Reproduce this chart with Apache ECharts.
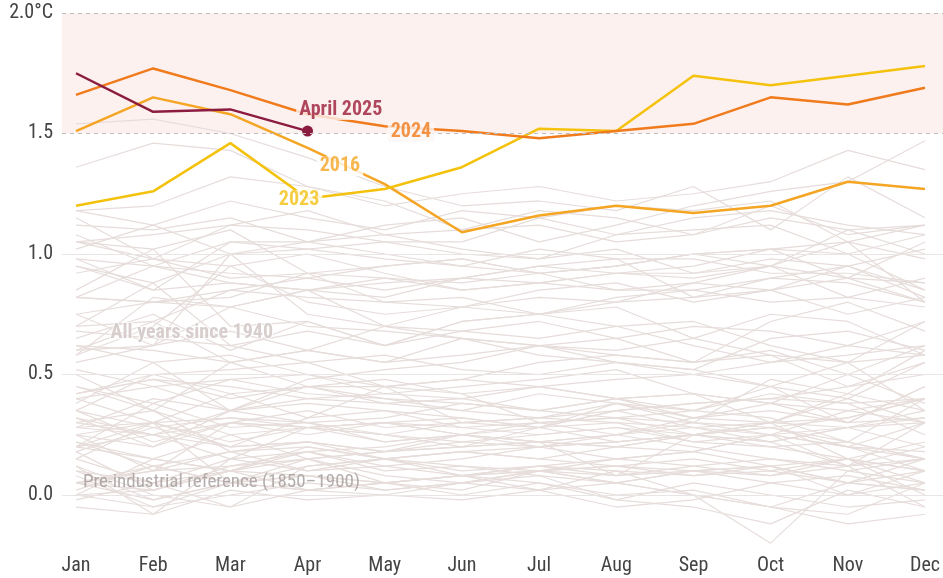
<!DOCTYPE html>
<html>
<head>
<meta charset="utf-8">
<script src="https://cdn.jsdelivr.net/npm/echarts@6/dist/echarts.min.js"></script>
<style>
  html, body { margin: 0; padding: 0; background: #fff; }
  #chart { width: 943px; height: 578px; }
</style>
</head>
<body>
<div id="chart"></div>
<script>
// months on the x axis
var months = ['Jan', 'Feb', 'Mar', 'Apr', 'May', 'Jun', 'Jul', 'Aug', 'Sep', 'Oct', 'Nov', 'Dec'];

// highlighted years, °C above 1850-1900
var y2016 = [1.51, 1.65, 1.58, 1.44, 1.29, 1.09, 1.16, 1.20, 1.17, 1.20, 1.30, 1.27];
var y2023 = [1.20, 1.26, 1.46, 1.23, 1.27, 1.36, 1.52, 1.51, 1.74, 1.70, 1.74, 1.78];
var y2024 = [1.66, 1.77, 1.68, 1.58, 1.53, 1.51, 1.48, 1.51, 1.54, 1.65, 1.62, 1.69];
var y2025 = [1.75, 1.59, 1.60, 1.51];

// all other years since 1940 (2016 is drawn in colour)
var greyValues = [
  [0.28, 0.40, 0.35, 0.30, 0.32, 0.38, 0.35, 0.40, 0.42, 0.38, 0.30, 0.45],
  [0.45, 0.38, 0.48, 0.42, 0.40, 0.35, 0.42, 0.38, 0.30, 0.48, 0.42, 0.35],
  [0.35, 0.22, 0.30, 0.25, 0.30, 0.32, 0.28, 0.22, 0.25, 0.30, 0.28, 0.32],
  [0.20, 0.38, 0.28, 0.30, 0.22, 0.25, 0.30, 0.32, 0.35, 0.42, 0.38, 0.40],
  [0.42, 0.48, 0.40, 0.45, 0.38, 0.40, 0.45, 0.48, 0.50, 0.45, 0.40, 0.30],
  [0.32, 0.25, 0.30, 0.35, 0.28, 0.30, 0.32, 0.35, 0.28, 0.30, 0.15, 0.10],
  [0.20, 0.15, 0.10, 0.18, 0.12, 0.08, 0.10, 0.12, 0.10, 0.08, 0.12, -0.05],
  [0.05, 0.10, 0.18, 0.20, 0.15, 0.12, 0.10, 0.15, 0.18, 0.25, 0.20, 0.10],
  [0.18, 0.02, 0.10, 0.20, 0.15, 0.10, 0.12, 0.08, 0.10, 0.12, 0.05, 0.10],
  [0.22, 0.15, 0.10, 0.15, 0.08, 0.05, 0.10, 0.12, 0.08, 0.10, 0.05, 0.02],
  [-0.02, 0.05, 0.10, 0.02, 0.05, 0.08, 0.05, 0.00, 0.02, -0.05, -0.08, 0.05],
  [0.00, -0.05, 0.05, 0.12, 0.15, 0.18, 0.20, 0.22, 0.25, 0.28, 0.20, 0.30],
  [0.28, 0.30, 0.20, 0.22, 0.18, 0.20, 0.22, 0.20, 0.18, 0.12, 0.05, 0.15],
  [0.25, 0.30, 0.32, 0.28, 0.30, 0.28, 0.25, 0.28, 0.22, 0.20, 0.15, 0.22],
  [0.02, 0.12, 0.05, 0.08, 0.02, 0.05, 0.08, 0.05, 0.10, 0.12, 0.15, 0.00],
  [0.12, 0.00, -0.05, 0.02, 0.00, 0.05, 0.02, 0.05, 0.00, -0.05, -0.12, -0.08],
  [-0.05, -0.08, 0.02, -0.02, 0.00, -0.02, 0.02, -0.05, -0.02, 0.05, 0.00, 0.05],
  [0.05, 0.10, 0.12, 0.18, 0.20, 0.25, 0.22, 0.25, 0.28, 0.22, 0.28, 0.35],
  [0.45, 0.35, 0.25, 0.28, 0.30, 0.25, 0.28, 0.30, 0.22, 0.25, 0.28, 0.20],
  [0.25, 0.20, 0.30, 0.28, 0.22, 0.25, 0.20, 0.25, 0.20, 0.15, 0.12, 0.20],
  [0.15, 0.05, -0.05, 0.12, 0.15, 0.18, 0.15, 0.20, 0.25, 0.22, 0.12, 0.30],
  [0.20, 0.30, 0.22, 0.28, 0.25, 0.22, 0.20, 0.22, 0.25, 0.20, 0.22, 0.15],
  [0.28, 0.25, 0.20, 0.22, 0.18, 0.25, 0.22, 0.20, 0.25, 0.28, 0.20, 0.18],
  [0.15, 0.30, 0.05, 0.15, 0.18, 0.20, 0.28, 0.35, 0.38, 0.40, 0.38, 0.25],
  [0.22, 0.12, 0.05, 0.02, 0.05, 0.00, 0.05, -0.02, -0.05, -0.12, 0.02, -0.05],
  [0.05, -0.02, 0.05, 0.02, 0.05, 0.08, 0.02, 0.10, 0.08, 0.12, 0.00, 0.10],
  [0.05, 0.12, 0.18, 0.10, 0.12, 0.15, 0.20, 0.15, 0.12, 0.08, 0.15, 0.10],
  [0.12, -0.08, 0.15, 0.10, 0.15, 0.08, 0.12, 0.15, 0.18, 0.25, 0.12, 0.15],
  [0.00, 0.15, 0.25, 0.15, 0.05, 0.08, 0.10, 0.08, 0.12, 0.15, 0.10, 0.05],
  [0.10, 0.05, 0.15, 0.28, 0.30, 0.25, 0.22, 0.25, 0.30, 0.28, 0.32, 0.40],
  [0.30, 0.35, 0.18, 0.22, 0.15, 0.18, 0.15, 0.12, 0.15, 0.10, 0.15, 0.05],
  [0.10, -0.02, 0.05, 0.08, 0.05, 0.02, 0.10, 0.05, 0.10, 0.05, 0.08, 0.02],
  [0.00, 0.02, 0.12, 0.15, 0.18, 0.22, 0.25, 0.28, 0.25, 0.30, 0.32, 0.40],
  [0.42, 0.48, 0.45, 0.40, 0.38, 0.35, 0.32, 0.30, 0.28, 0.25, 0.20, 0.15],
  [0.05, 0.02, 0.10, 0.08, 0.05, 0.08, 0.12, 0.10, 0.00, -0.05, 0.05, 0.02],
  [0.20, 0.25, 0.15, 0.18, 0.10, 0.12, 0.08, -0.02, 0.05, 0.00, -0.05, -0.02],
  [0.08, -0.05, 0.00, 0.05, 0.02, 0.05, 0.10, 0.05, 0.00, -0.20, 0.10, 0.15],
  [0.30, 0.25, 0.35, 0.40, 0.42, 0.40, 0.35, 0.32, 0.30, 0.25, 0.35, 0.30],
  [0.35, 0.28, 0.32, 0.30, 0.25, 0.20, 0.22, 0.08, 0.25, 0.22, 0.28, 0.30],
  [0.25, 0.10, 0.30, 0.28, 0.25, 0.30, 0.28, 0.35, 0.38, 0.40, 0.45, 0.55],
  [0.40, 0.45, 0.35, 0.45, 0.48, 0.42, 0.45, 0.40, 0.42, 0.38, 0.50, 0.38],
  [0.62, 0.55, 0.58, 0.50, 0.42, 0.45, 0.48, 0.52, 0.42, 0.30, 0.40, 0.55],
  [0.18, 0.28, 0.20, 0.32, 0.35, 0.28, 0.30, 0.25, 0.32, 0.30, 0.42, 0.60],
  [0.68, 0.65, 0.62, 0.55, 0.58, 0.52, 0.50, 0.55, 0.52, 0.45, 0.55, 0.35],
  [0.40, 0.30, 0.42, 0.32, 0.45, 0.30, 0.32, 0.38, 0.35, 0.32, 0.22, 0.15],
  [0.32, 0.20, 0.35, 0.38, 0.35, 0.32, 0.28, 0.38, 0.32, 0.35, 0.30, 0.32],
  [0.42, 0.50, 0.42, 0.45, 0.40, 0.38, 0.35, 0.40, 0.32, 0.38, 0.35, 0.40],
  [0.38, 0.55, 0.35, 0.48, 0.52, 0.55, 0.62, 0.60, 0.65, 0.58, 0.55, 0.72],
  [0.75, 0.62, 0.78, 0.70, 0.68, 0.65, 0.62, 0.58, 0.55, 0.58, 0.45, 0.50],
  [0.35, 0.50, 0.52, 0.55, 0.45, 0.48, 0.55, 0.58, 0.55, 0.60, 0.50, 0.62],
  [0.60, 0.62, 1.00, 0.75, 0.70, 0.65, 0.62, 0.65, 0.55, 0.72, 0.80, 0.68],
  [0.65, 0.75, 0.60, 0.72, 0.62, 0.72, 0.75, 0.70, 0.62, 0.55, 0.58, 0.62],
  [0.62, 0.60, 0.55, 0.45, 0.45, 0.42, 0.30, 0.32, 0.25, 0.28, 0.22, 0.40],
  [0.52, 0.45, 0.48, 0.50, 0.45, 0.48, 0.45, 0.40, 0.35, 0.45, 0.30, 0.45],
  [0.50, 0.35, 0.55, 0.60, 0.55, 0.65, 0.58, 0.55, 0.52, 0.65, 0.68, 0.60],
  [0.85, 1.02, 0.70, 0.72, 0.62, 0.72, 0.75, 0.78, 0.65, 0.75, 0.72, 0.58],
  [0.60, 0.72, 0.55, 0.60, 0.55, 0.58, 0.62, 0.55, 0.50, 0.55, 0.62, 0.58],
  [0.55, 0.62, 0.68, 0.60, 0.70, 0.78, 0.75, 0.80, 0.88, 0.95, 0.90, 0.88],
  [1.02, 1.12, 1.00, 1.05, 1.00, 0.95, 1.02, 0.98, 0.82, 0.85, 0.75, 0.82],
  [0.70, 0.88, 0.62, 0.68, 0.62, 0.68, 0.72, 0.65, 0.70, 0.68, 0.62, 0.72],
  [0.58, 0.82, 0.78, 0.85, 0.70, 0.68, 0.65, 0.70, 0.72, 0.62, 0.55, 0.58],
  [0.70, 0.72, 0.85, 0.82, 0.80, 0.78, 0.85, 0.88, 0.80, 0.85, 0.95, 0.82],
  [1.05, 1.02, 1.10, 0.92, 0.90, 0.88, 0.92, 0.85, 0.88, 0.85, 0.90, 0.80],
  [0.98, 0.85, 0.88, 0.85, 0.90, 0.85, 0.88, 0.92, 0.95, 1.02, 0.90, 1.05],
  [0.92, 0.98, 0.90, 0.92, 0.80, 0.82, 0.75, 0.82, 0.85, 0.90, 0.95, 0.85],
  [0.95, 0.88, 1.00, 1.02, 0.98, 0.95, 0.92, 0.95, 1.00, 1.02, 1.05, 0.98],
  [0.82, 0.95, 0.88, 0.85, 0.82, 0.90, 0.88, 0.92, 0.92, 0.98, 0.95, 1.02],
  [1.15, 0.98, 0.95, 1.00, 0.92, 0.85, 0.88, 0.85, 0.85, 0.80, 0.82, 0.78],
  [0.58, 0.70, 0.95, 0.80, 0.75, 0.78, 0.82, 0.80, 0.82, 0.90, 0.88, 0.80],
  [0.82, 0.80, 0.78, 0.85, 0.88, 0.90, 0.95, 0.98, 0.98, 0.92, 0.92, 0.88],
  [1.05, 1.08, 1.12, 1.10, 1.05, 1.00, 0.98, 1.02, 0.92, 0.95, 1.05, 0.80],
  [0.82, 0.80, 0.85, 0.90, 0.85, 0.90, 0.95, 0.92, 0.90, 0.95, 0.82, 0.90],
  [0.75, 0.80, 0.82, 0.92, 0.95, 0.98, 0.92, 0.95, 1.00, 1.02, 1.00, 0.85],
  [0.98, 0.95, 0.92, 0.90, 0.95, 0.98, 0.92, 0.95, 1.00, 0.95, 1.10, 1.00],
  [0.95, 0.85, 1.05, 1.05, 1.08, 1.02, 0.98, 1.08, 1.10, 1.12, 1.00, 1.08],
  [1.12, 1.10, 1.15, 1.05, 1.12, 1.15, 1.05, 1.12, 1.20, 1.26, 1.30, 1.47],
  [1.36, 1.46, 1.43, 1.28, 1.22, 1.10, 1.18, 1.15, 1.08, 1.15, 1.10, 1.12],
  [1.05, 0.98, 1.12, 1.18, 1.08, 1.10, 1.12, 1.05, 1.08, 1.20, 1.08, 1.12],
  [1.18, 1.20, 1.32, 1.28, 1.20, 1.25, 1.28, 1.22, 1.25, 1.30, 1.43, 1.35],
  [1.54, 1.56, 1.50, 1.40, 1.28, 1.20, 1.22, 1.18, 1.28, 1.10, 1.32, 1.15],
  [1.08, 0.95, 1.05, 1.02, 1.05, 1.05, 1.15, 1.08, 1.15, 1.18, 1.12, 1.08],
  [1.18, 1.12, 1.22, 1.15, 1.10, 1.18, 1.15, 1.20, 1.18, 1.22, 1.05, 1.12]
];

// y axis ticks
var yTicks = [0, 0.5, 1.0, 1.5, 2.0];

// text annotations: [month position, value]
var notes = [
  { text: 'April 2025', at: [3.43, 1.598], color: '#9b1b38', bg: '#fdf1f0', bold: true, size: 20 },
  { text: '2024', at: [4.34, 1.506], color: '#f07b1c', bg: '#fdf7f6', bold: true, size: 20 },
  { text: '2016', at: [3.42, 1.365], color: '#f5a524', bg: '#ffffff', bold: true, size: 20 },
  { text: '2023', at: [2.89, 1.224], color: '#f2c112', bg: '#ffffff', bold: true, size: 20 },
  { text: 'All years since 1940', at: [1.50, 0.672], color: '#cdc2c1', bg: null, bold: true, size: 20 },
  { text: 'Pre-industrial reference (1850\u20131900)', at: [1.885, 0.054], color: '#a39999', bg: null, bold: false, size: 19 }
];

var FONT = "'Roboto Condensed', Roboto, sans-serif";
var Y_MIN = -0.22, Y_MAX = 2.0;

function toPairs(arr) {
    return arr.map(function (v, i) { return [i, v]; });
}

var chart = echarts.init(document.getElementById('chart'), null, { renderer: 'canvas' });

var series = [];

// background: shaded band above 1.5 and the grid lines
series.push({
    type: 'line',
    xAxisIndex: 1,
    yAxisIndex: 1,
    data: [],
    silent: true,
    z: 0,
    markArea: {
        silent: true,
        itemStyle: { color: '#fdf1f0' },
        data: [[{ yAxis: 1.5 }, { yAxis: 2.0 }]]
    },
    markLine: {
        silent: true,
        symbol: ['none', 'none'],
        label: { show: false },
        animation: false,
        data: yTicks.map(function (t) {
            var dashed = t >= 1.5;
            return {
                yAxis: t,
                lineStyle: dashed
                    ? { color: '#bdbdbd', width: 1, type: [4, 4] }
                    : { color: '#e9e5e5', width: 1, type: 'solid' }
            };
        })
    }
});

// grey lines
greyValues.forEach(function (row, k) {
    series.push({
        type: 'line',
        name: 'grey' + k,
        data: toPairs(row),
        symbol: 'none',
        silent: true,
        z: 2,
        lineStyle: { color: '#e6dddb', width: 1.2 }
    });
});

function highlight(name, arr, color, width) {
    return {
        type: 'line',
        name: name,
        data: toPairs(arr),
        symbol: 'none',
        silent: true,
        z: 3,
        lineStyle: { color: color, width: width }
    };
}

series.push(highlight('2016', y2016, '#f5a524', 2.5));
series.push(highlight('2023', y2023, '#f4c20d', 2.5));
series.push(highlight('2024', y2024, '#f07b1c', 2.5));

var s2025 = highlight('2025', y2025, '#8b1c40', 2.5);
s2025.data = y2025.map(function (v, i) {
    if (i === y2025.length - 1) {
        return { value: [i, v], symbol: 'circle', symbolSize: 11, itemStyle: { color: '#8b1c40' } };
    }
    return [i, v];
});
s2025.showSymbol = true;
s2025.z = 4;
series.push(s2025);

// annotations on top
series.push({
    type: 'scatter',
    silent: true,
    z: 10,
    symbolSize: 0,
    data: notes.map(function (n) {
        var lbl = {
            show: true,
            position: 'inside',
            formatter: n.text,
            color: n.color,
            fontFamily: FONT,
            fontSize: n.size,
            fontWeight: n.bold ? 'bold' : 'normal'
        };
        if (n.bg) {
            lbl.backgroundColor = n.bg;
            lbl.padding = [0, 3];
        } else if (n.bold) {
            lbl.textBorderColor = '#ffffff';
            lbl.textBorderWidth = 2;
        }
        return { value: n.at, label: lbl };
    })
});

var option = {
    animation: false,
    backgroundColor: '#ffffff',
    grid: [
        { left: 76, right: 15, top: 13, bottom: 30 },
        { left: 62, right: 0, top: 13, bottom: 30 }
    ],
    xAxis: [
        {
            type: 'value',
            gridIndex: 0,
            min: 0,
            max: 11,
            interval: 1,
            axisLine: { show: false },
            axisTick: { show: false },
            splitLine: { show: false },
            axisLabel: {
                margin: 8,
                color: '#444',
                fontFamily: FONT,
                fontSize: 20,
                formatter: function (v) { return months[v] || ''; }
            }
        },
        {
            type: 'value',
            gridIndex: 1,
            min: 0,
            max: 1,
            show: false
        }
    ],
    yAxis: [
        {
            type: 'value',
            gridIndex: 0,
            min: Y_MIN,
            max: Y_MAX,
            show: false
        },
        {
            type: 'value',
            gridIndex: 1,
            min: Y_MIN,
            max: Y_MAX,
            splitNumber: 5,
            axisLine: { show: false },
            axisTick: { show: false },
            splitLine: { show: false },
            axisLabel: {
                margin: 9,
                color: '#444',
                fontFamily: FONT,
                fontSize: 20,
                formatter: function (v) {
                    if (v < 0) return '';
                    if (v === 2) return '2.0\u00b0C';
                    return v.toFixed(1);
                }
            }
        }
    ],
    series: series
};

chart.setOption(option);
</script>
</body>
</html>
